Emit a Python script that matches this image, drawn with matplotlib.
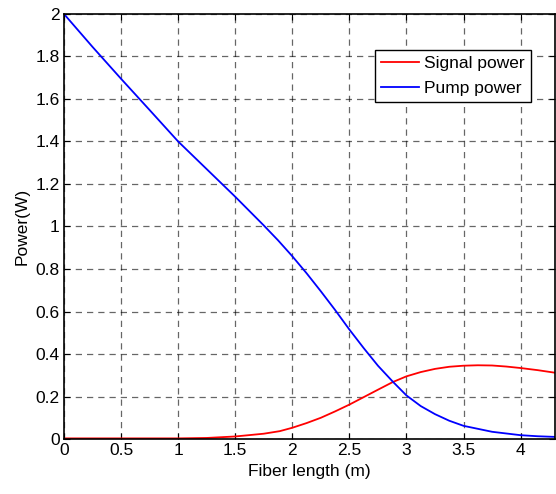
import numpy as np
import matplotlib.pyplot as plt

plt.rcParams['font.family'] = ['Liberation Sans', 'DejaVu Sans']

# values
pump_x = [0, 0.25, 0.5, 0.75, 1.0, 1.25, 1.5, 1.75, 1.875, 2.0, 2.125, 2.25, 2.375, 2.5, 2.625, 2.75,
          2.88, 3.0, 3.125, 3.25, 3.375, 3.5, 3.75, 4.0, 4.15, 4.3]
pump_y = [2.0, 1.845, 1.695, 1.548, 1.40, 1.27, 1.14, 1.005, 0.935, 0.86, 0.78, 0.695, 0.607, 0.515, 0.428, 0.345,
          0.27, 0.205, 0.155, 0.117, 0.086, 0.062, 0.034, 0.018, 0.013, 0.01]

signal_x = [0, 0.5, 1.0, 1.25, 1.5, 1.75, 1.89, 2.0, 2.125, 2.25, 2.375, 2.5, 2.625, 2.75, 2.88,
            3.0, 3.125, 3.25, 3.375, 3.5, 3.625, 3.75, 3.875, 4.0, 4.15, 4.3]
signal_y = [0.003, 0.003, 0.003, 0.005, 0.012, 0.025, 0.037, 0.053, 0.075, 0.1, 0.13, 0.162, 0.197, 0.232, 0.268,
            0.295, 0.315, 0.33, 0.34, 0.345, 0.347, 0.346, 0.341, 0.334, 0.324, 0.312]

xticks = [0, 0.5, 1, 1.5, 2, 2.5, 3, 3.5, 4]
xticklabels = ['0', '0.5', '1', '1.5', '2', '2.5', '3', '3.5', '4']
yticks = [0, 0.2, 0.4, 0.6, 0.8, 1, 1.2, 1.4, 1.6, 1.8, 2]
yticklabels = ['0', '0.2', '0.4', '0.6', '0.8', '1', '1.2', '1.4', '1.6', '1.8', '2']

fig = plt.figure(figsize=(5.56, 4.94), dpi=100)
ax = fig.add_axes([0.1151, 0.1113, 0.8829, 0.8604])

ax.plot(signal_x, signal_y, color='red', lw=1.3, label='Signal power')
ax.plot(pump_x, pump_y, color='blue', lw=1.3, label='Pump power')

ax.set_xlim(0, 4.3)
ax.set_ylim(0, 2)
ax.set_xticks(xticks)
ax.set_xticklabels(xticklabels)
ax.set_yticks(yticks)
ax.set_yticklabels(yticklabels)
ax.tick_params(direction='in', length=4, width=0.8, top=True, right=True,
               labelsize=12.5, pad=3)
ax.grid(True, color='black', alpha=0.6, linestyle=(0, (5, 4)), linewidth=0.9)
for s in ax.spines.values():
    s.set_linewidth(1.2)

ax.set_xlabel('Fiber length (m)', fontsize=12.5, labelpad=4)
ax.set_ylabel('Power(W)', fontsize=12.5, labelpad=4)

leg = ax.legend(loc='upper right', bbox_to_anchor=(0.951, 0.915), fontsize=12.5,
                fancybox=False, framealpha=1, edgecolor='black',
                handlelength=2.2, handletextpad=0.3, borderpad=0.35,
                labelspacing=0.55, borderaxespad=0)
leg.get_frame().set_linewidth(1.0)

fig.savefig('out.png', dpi=100)
